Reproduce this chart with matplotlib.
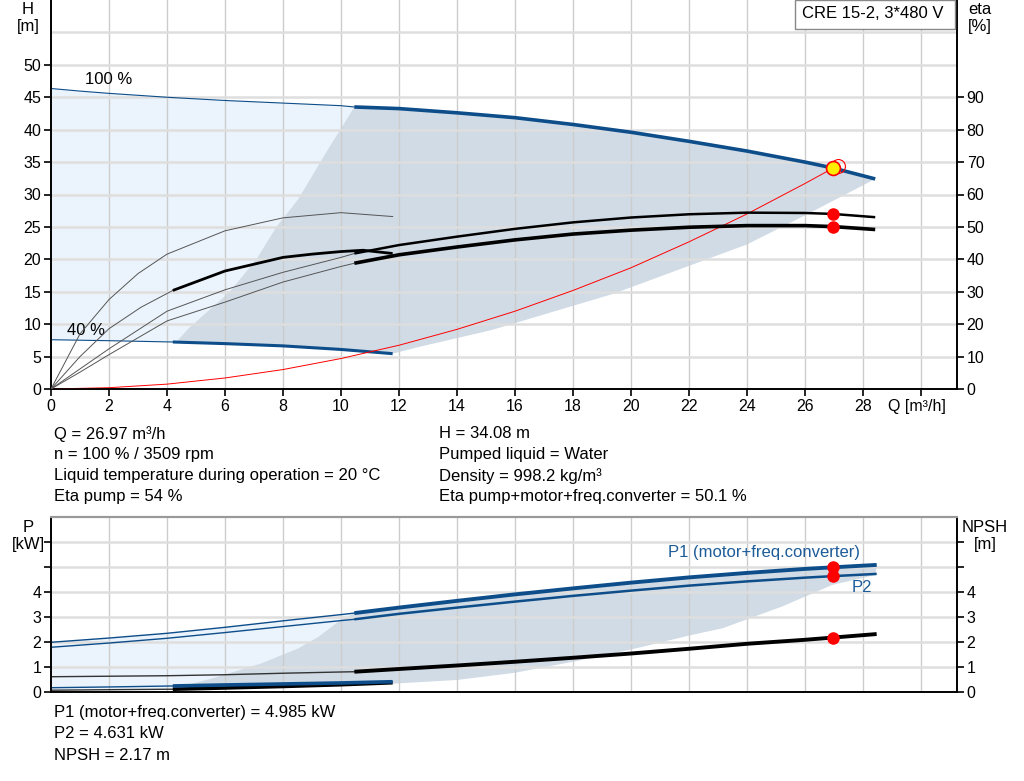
import numpy as np
import matplotlib.pyplot as plt
from matplotlib.patches import Rectangle

plt.rcParams['font.family'] = ['Liberation Sans', 'DejaVu Sans']
plt.rcParams['font.size'] = 12

# ---- pump curve (H) ----
q_100 = [0, 1, 2, 4, 6, 8, 10, 10.46, 12, 14, 16, 18, 20, 22, 24, 26, 26.97, 28.42]
h_100 = [46.35, 45.95, 45.6, 45.0, 44.5, 44.1, 43.7, 43.5, 43.25, 42.6, 41.85, 40.8, 39.6, 38.2, 36.7, 35.0, 34.08, 32.4]
q_40 = [0, 2, 4.2, 6, 8, 10, 11.78]
h_40 = [7.6, 7.45, 7.25, 7.0, 6.65, 6.1, 5.45]

# efficiency curves [%]
eta_pump_100 = [0, 6.2, 12.4, 24.0, 30.6, 36.0, 40.6, 41.8, 44.4, 47.0, 49.4, 51.4, 52.9, 53.9, 54.4, 54.3, 54.0, 53.0]
eta_tot_100 = [0, 5.2, 10.6, 21.0, 26.8, 33.0, 37.8, 38.8, 41.4, 43.8, 46.0, 47.8, 49.0, 49.9, 50.4, 50.4, 50.1, 49.2]
q_eta_pump_40 = [0, 1, 2, 3, 4, 6, 8, 10, 11.78]
eta_pump_40 = [0, 17.0, 27.6, 35.6, 41.6, 48.8, 52.8, 54.4, 53.2]
q_eta_tot_40 = [0, 1, 2, 3.1, 4.2, 6, 7, 8, 9, 10, 10.76, 11.78]
eta_tot_40 = [0, 10.0, 18.6, 25.2, 30.4, 36.4, 38.5, 40.6, 41.6, 42.4, 42.8, 41.8]

# system curve
q_sys = [0, 2, 4, 6, 8, 10, 12, 14, 16, 18, 20, 22, 24, 26, 26.97]
h_sys = [0, 0.2, 0.75, 1.7, 3.0, 4.7, 6.75, 9.2, 12.0, 15.2, 18.7, 22.7, 27.0, 31.7, 34.08]

# operating range borders (H panel)
q_left_h = [4.33, 4.72, 6.16, 7.08, 7.77, 8.52, 9.54, 10.46]
h_left_h = [7.3, 9.25, 15.0, 20.0, 25.0, 29.26, 36.9, 43.5]
q_right_h = [11.78, 12.7, 15.2, 19.4, 22, 24, 26.14, 28.42]
h_right_h = [5.45, 6.5, 9.1, 14.7, 19.0, 22.3, 27.1, 32.4]

# ---- power / NPSH ----
q_p100 = [0, 2, 4, 6, 8, 10, 10.46, 12, 14, 16, 18, 20, 22, 24, 26, 26.97, 28.47]
p1_100 = [1.98, 2.15, 2.34, 2.58, 2.84, 3.09, 3.15, 3.37, 3.64, 3.90, 4.14, 4.37, 4.58, 4.76, 4.92, 4.985, 5.08]
p2_100 = [1.78, 1.95, 2.14, 2.37, 2.61, 2.85, 2.90, 3.12, 3.37, 3.61, 3.84, 4.05, 4.25, 4.42, 4.57, 4.631, 4.72]
npsh_100 = [0.60, 0.62, 0.64, 0.68, 0.74, 0.79, 0.80, 0.91, 1.05, 1.20, 1.36, 1.53, 1.72, 1.92, 2.08, 2.17, 2.31]
q_p40 = [0, 2, 4.2, 6, 8, 10, 11.78]
p1_40 = [0.16, 0.19, 0.23, 0.27, 0.31, 0.35, 0.40]
npsh_40 = [0.06, 0.08, 0.10, 0.15, 0.21, 0.28, 0.36]

q_left_p = [4.22, 5.54, 7.26, 8.53, 9.22, 9.91, 10.46]
p_left_p = [0.12, 0.53, 1.14, 1.74, 2.2, 2.81, 3.15]
q_right_p = [11.33, 14, 16, 18, 20, 22, 23.15, 25.2, 26.94, 28.44]
p_right_p = [0.29, 0.47, 0.76, 1.2, 1.69, 2.25, 2.54, 3.41, 4.28, 4.68]

# duty point
op_q = 26.97
op_h = 34.08
op_eta_pump = 54.0
op_eta_tot = 50.1
op_p1 = 4.985
op_p2 = 4.631
op_npsh = 2.17

BLUE = '#0d4d8a'
LIGHT = '#ebf4fc'
DARK = '#d0dbe6'
THIN = '#555555'
TICK_FS = 11.5


def split_line(ax, q, v, k, color, lw_thin, lw_thick, thin_color=None):
    ax.plot(q[:k + 1], v[:k + 1], color=thin_color or color, lw=lw_thin, zorder=3)
    ax.plot(q[k:], v[k:], color=color, lw=lw_thick, zorder=3, solid_capstyle='butt')


def style_grid(ax, xmax, ys):
    for x in range(2, xmax + 1, 2):
        ax.axvline(x, color='#cccccc', lw=1.0, zorder=0.6)
    for y in ys:
        ax.axhline(y, color='#dedede', lw=1.8, zorder=0.6)


fig = plt.figure(figsize=(10.24, 7.81), dpi=100)

# ================= H / eta panel =================
ax = fig.add_axes([51 / 1024, 1 - 389 / 781, 906 / 1024, 389 / 781])
ax.set_xlim(0, 31.24)
ax.set_ylim(0, 60)
style_grid(ax, 30, range(5, 60, 5))

k = q_100.index(10.46)
light_q = q_100[:k + 1] + q_left_h[::-1] + q_40[:3][::-1]
light_h = h_100[:k + 1] + h_left_h[::-1] + h_40[:3][::-1]
ax.fill(light_q, light_h, color=LIGHT, lw=0, zorder=0.3)
dark_q = q_left_h + q_100[k:] + q_right_h[::-1] + q_40[2:][::-1]
dark_h = h_left_h + h_100[k:] + h_right_h[::-1] + h_40[2:][::-1]
ax.fill(dark_q, dark_h, color=DARK, lw=0, zorder=0.4)

split_line(ax, q_100, h_100, k, BLUE, 0.8, 2.6)
split_line(ax, q_40, h_40, 2, BLUE, 0.8, 2.2)
ax.plot(q_sys, h_sys, color='red', lw=0.7, zorder=4)

ax2 = ax.twinx()
ax2.set_ylim(0, 120)
ax2.plot(q_eta_pump_40, eta_pump_40, color=THIN, lw=0.7, zorder=3)
split_line(ax2, q_eta_tot_40, eta_tot_40, 4, 'black', 0.7, 2.0, THIN)
split_line(ax2, q_100, eta_pump_100, k, 'black', 0.7, 1.8, THIN)
split_line(ax2, q_100, eta_tot_100, k, 'black', 0.7, 2.6, THIN)
ax2.plot([op_q, op_q], [op_eta_pump, op_eta_tot], 'o', color='red', ms=8, zorder=5, linestyle='none')

ax.plot(op_q + 0.15, op_h + 0.3, 'o', mfc='none', mec='red', ms=10, mew=0.8, zorder=6)
ax.plot(op_q, op_h, 'o', mfc='#ffee00', mec='red', ms=10, mew=1.2, zorder=7)

ax.text(1.17, 47.7, '100 %', va='center', ha='left', zorder=8)
ax.text(0.55, 9.1, '40 %', va='center', ha='left', zorder=8)

ax.set_xticks(range(0, 31, 2))
ax.set_xticklabels([str(v) for v in range(0, 29, 2)] + [''])
ax.set_yticks(range(0, 51, 5))
ax.tick_params(axis='both', direction='out', length=5, width=1.2, labelsize=TICK_FS, pad=2)
ax2.set_yticks(range(0, 91, 10))
ax2.tick_params(axis='y', direction='out', length=5, width=1.2, labelsize=TICK_FS, pad=2)
for a in (ax, ax2):
    a.spines['top'].set_visible(False)
    for s in ('left', 'right', 'bottom'):
        a.spines[s].set_linewidth(1.2)
ax.text(28.85, -0.046, 'Q [m³/h]', transform=ax.get_xaxis_transform(), va='center', ha='left',
        fontsize=TICK_FS)

# title box
fig.patches.append(Rectangle((795 / 1024, 1 - 29 / 781), 160 / 1024, 29 / 781,
                             transform=fig.transFigure, fill=True, fc='white',
                             ec='#888888', lw=1, zorder=10))
fig.text(802 / 1024, 1 - 14 / 781, 'CRE 15-2, 3*480 V', va='center', ha='left', zorder=11)

fig.text(28 / 1024, 1 - 18 / 781, 'H\n[m]', ha='center', va='center', linespacing=1.25)
fig.text(980 / 1024, 1 - 18 / 781, 'eta\n[%]', ha='center', va='center', linespacing=1.25)

info_left = ['Q = 26.97 m³/h', 'n = 100 % / 3509 rpm',
             'Liquid temperature during operation = 20 °C', 'Eta pump = 54 %']
info_right = ['H = 34.08 m', 'Pumped liquid = Water', 'Density = 998.2 kg/m³',
              'Eta pump+motor+freq.converter = 50.1 %']
for i, (l, r) in enumerate(zip(info_left, info_right)):
    y = 1 - (434 + 21 * i) / 781
    fig.text(54 / 1024, y, l, va='center', ha='left')
    fig.text(439 / 1024, y, r, va='center', ha='left')

# ================= P / NPSH panel =================
bx = fig.add_axes([51 / 1024, 1 - 691.7 / 781, 906 / 1024, 174.7 / 781])
bx.set_xlim(0, 31.24)
bx.set_ylim(0, 7)
style_grid(bx, 30, range(1, 7))

kp = q_p100.index(10.46)
light_q = q_p100[:kp + 1] + q_left_p[::-1] + q_p40[:3][::-1]
light_p = p1_100[:kp + 1] + p_left_p[::-1] + npsh_40[:3][::-1]
bx.fill(light_q, light_p, color=LIGHT, lw=0, zorder=0.3)
dark_q = q_left_p + q_p100[kp:] + q_right_p[::-1] + q_p40[2:6][::-1]
dark_p = p_left_p + p1_100[kp:] + p_right_p[::-1] + npsh_40[2:6][::-1]
bx.fill(dark_q, dark_p, color=DARK, lw=0, zorder=0.4)

split_line(bx, q_p100, p1_100, kp, BLUE, 1.0, 2.8)
split_line(bx, q_p100, p2_100, kp, BLUE, 1.0, 1.8)
split_line(bx, q_p100, npsh_100, kp, 'black', 1.0, 2.8, '#333333')
split_line(bx, q_p40, npsh_40, 2, 'black', 1.0, 2.6, '#333333')
split_line(bx, q_p40, p1_40, 2, BLUE, 1.0, 2.6)
bx.plot([op_q, op_q, op_q], [op_p1, op_p2, op_npsh], 'o', color='red', ms=8, zorder=5, linestyle='none')

bx.text(21.28, 5.56, 'P1 (motor+freq.converter)', color='#1c5c99', va='center', ha='left')
bx.text(27.6, 4.16, 'P2', color='#1c5c99', va='center', ha='left')

bx.set_xticks([])
bx.set_yticks(range(0, 7))
bx.set_yticklabels(['0', '1', '2', '3', '4', '', ''])
bx.tick_params(axis='y', direction='out', length=5, width=1.2, labelsize=TICK_FS, pad=2)
bx2 = bx.twinx()
bx2.set_ylim(0, 7)
bx2.set_yticks(range(0, 7))
bx2.set_yticklabels(['0', '1', '2', '3', '4', '', ''])
bx2.tick_params(axis='y', direction='out', length=5, width=1.2, labelsize=TICK_FS, pad=2)
for a in (bx, bx2):
    for s in ('left', 'right', 'bottom'):
        a.spines[s].set_linewidth(1.2)
    a.spines['top'].set_color('#999999')
    a.spines['top'].set_linewidth(1.5)

fig.text(28 / 1024, 1 - 536 / 781, 'P\n[kW]', ha='center', va='center', linespacing=1.25)
fig.text(985 / 1024, 1 - 536 / 781, 'NPSH\n[m]', ha='center', va='center', linespacing=1.25)

info_bottom = ['P1 (motor+freq.converter) = 4.985 kW', 'P2 = 4.631 kW', 'NPSH = 2.17 m']
for i, t in enumerate(info_bottom):
    fig.text(54 / 1024, 1 - (713 + 21 * i) / 781, t, va='center', ha='left')

fig.savefig('out.png', dpi=100)
